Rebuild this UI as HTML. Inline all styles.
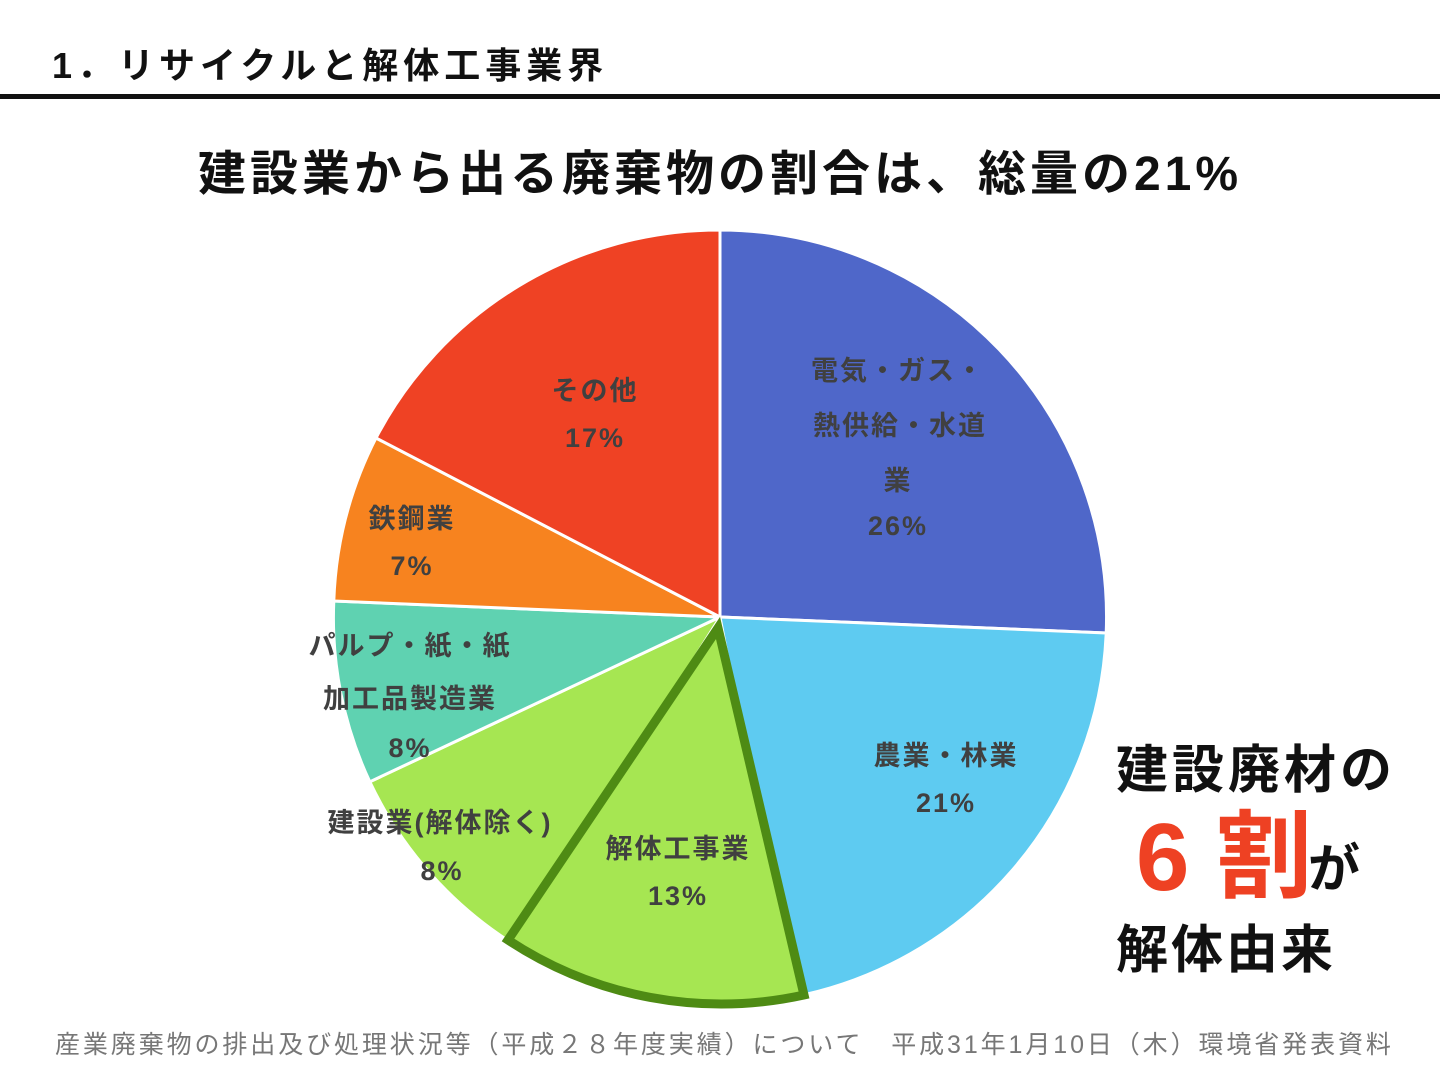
<!DOCTYPE html>
<html><head><meta charset="utf-8"><style>
body{margin:0;width:1440px;height:1080px;background:#fff;overflow:hidden;font-family:"Liberation Sans","Noto Sans CJK JP",sans-serif;}
svg{position:absolute;left:0;top:0}
</style></head><body>
<svg width="1440" height="1080" viewBox="0 0 1440 1080" font-family="'Liberation Sans','Noto Sans CJK JP',sans-serif">
<text x="52" y="78" font-size="36" font-weight="bold" fill="#111" letter-spacing="5">1．リサイクルと解体工事業界</text>
<rect x="0" y="94" width="1440" height="5" fill="#111"/>
<text x="720" y="190" font-size="48" font-weight="bold" fill="#111" text-anchor="middle" letter-spacing="4">建設業から出る廃棄物の割合は、総量の21%</text>
<g stroke="#fff" stroke-width="3" stroke-linejoin="round">
<path d="M720,617 L720,230 A387,387 0 0 1 1106.2,633 Z" fill="#4f67c9"/>
<path d="M720,617 L1106.2,633 A387,387 0 0 1 792.5,997.2 Z" fill="#5ecbf1"/>
<path d="M720,617 L515,945 A387,387 0 0 1 369.8,781.8 Z" fill="#a6e652"/>
<path d="M720,617 L369.8,781.8 A387,387 0 0 1 333.8,601 Z" fill="#5fd2b1"/>
<path d="M720,617 L333.8,601 A387,387 0 0 1 376,438 Z" fill="#f7831f"/>
<path d="M720,617 L376,438 A387,387 0 0 1 720,230 Z" fill="#ef4224"/>
</g>
<path d="M718,628 L804,995 A387,387 0 0 1 508,940 Z" fill="#a6e652" stroke="#4e8b14" stroke-width="9" stroke-linejoin="miter"/>
<g font-size="27" font-weight="bold" fill="#404040" text-anchor="middle" letter-spacing="2">
<text x="898" y="380">電気・ガス・</text>
<text x="900" y="435">熱供給・水道</text>
<text x="898" y="490">業</text>
<text x="898" y="535">26%</text>
<text x="946" y="765">農業・林業</text>
<text x="946" y="812">21%</text>
<text x="678" y="858">解体工事業</text>
<text x="678" y="905">13%</text>
<text x="440" y="832">建設業(解体除く)</text>
<text x="442" y="880">8%</text>
<text x="410" y="655">パルプ・紙・紙</text>
<text x="410" y="708">加工品製造業</text>
<text x="410" y="757">8%</text>
<text x="412" y="528">鉄鋼業</text>
<text x="412" y="575">7%</text>
<text x="595" y="400">その他</text>
<text x="595" y="447">17%</text>
</g>
<text x="1116" y="788" font-size="52" font-weight="bold" fill="#111" letter-spacing="4">建設廃材の</text>
<text x="1136" y="890" font-size="96" font-weight="bold" fill="#ee4123">6 割</text>
<text x="1308" y="887" font-size="52" font-weight="bold" fill="#111">が</text>
<text x="1116" y="968" font-size="52" font-weight="bold" fill="#111" letter-spacing="3">解体由来</text>
<text x="55" y="1053" font-size="25" fill="#777" letter-spacing="2.9">産業廃棄物の排出及び処理状況等（平成２８年度実績）について　平成31年1月10日（木）環境省発表資料</text>
</svg>
</body></html>
